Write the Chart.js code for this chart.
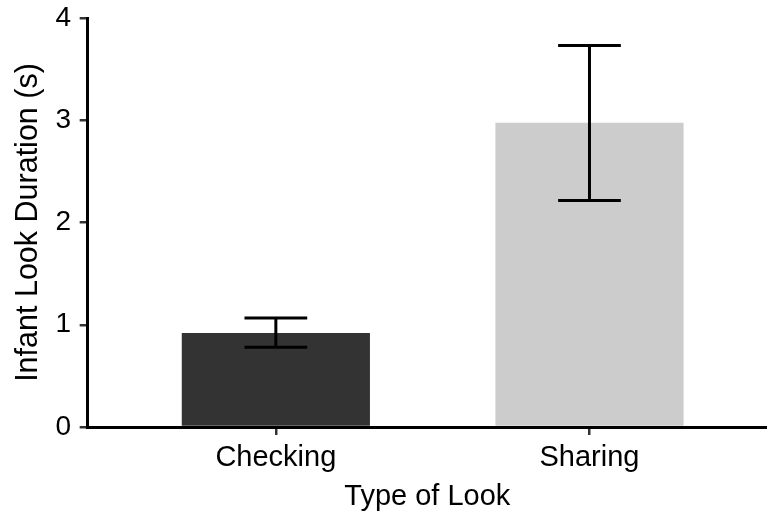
<!DOCTYPE html>
<html>
<head>
<meta charset="utf-8">
<script src="https://cdn.jsdelivr.net/npm/chart.js@4/dist/chart.umd.min.js"></script>
<style>
  html, body { margin: 0; padding: 0; background: #fff; overflow: hidden; }
  #wrap { width: 767px; height: 514px; position: relative; }
</style>
</head>
<body>
<div id="wrap"><canvas id="c"></canvas></div>
<script>
// ---- data ----
const categories = ["Checking", "Sharing"];
const means = [0.92, 2.975];
const errLow = [0.78, 2.215];
const errHigh = [1.065, 3.73];
const barColors = ["#333333", "#cccccc"];
const yTicks = [0, 1, 2, 3, 4];

const FONT = "'Liberation Sans', Arial, sans-serif";

const errorBarPlugin = {
  id: 'errorBars',
  afterDatasetsDraw(chart) {
    const ctx = chart.ctx;
    const xs = chart.scales.x, ys = chart.scales.y;
    const unit = xs.getPixelForValue(2) - xs.getPixelForValue(1);
    const half = unit * 0.1;
    ctx.save();
    ctx.strokeStyle = '#000';
    ctx.lineWidth = 3;
    ctx.lineCap = 'butt';
    categories.forEach((c, i) => {
      const x = xs.getPixelForValue(i + 1);
      const yl = ys.getPixelForValue(errLow[i]);
      const yh = ys.getPixelForValue(errHigh[i]);
      ctx.beginPath();
      ctx.moveTo(x, yl); ctx.lineTo(x, yh);
      ctx.moveTo(x - half, yl); ctx.lineTo(x + half, yl);
      ctx.moveTo(x - half, yh); ctx.lineTo(x + half, yh);
      ctx.stroke();
    });
    ctx.restore();
  }
};

new Chart(document.getElementById('c'), {
  type: 'bar',
  data: {
    datasets: [{
      data: categories.map((c, i) => ({ x: i + 1, y: means[i] })),
      backgroundColor: barColors,
      borderWidth: 0,
      categoryPercentage: 1,
      barPercentage: 0.6
    }]
  },
  options: {
    responsive: true,
    maintainAspectRatio: false,
    animation: false,
    layout: { padding: { left: 7.5, top: 18, right: 0, bottom: 1.3 } },
    plugins: { legend: { display: false }, tooltip: { enabled: false } },
    scales: {
      x: {
        type: 'linear',
        min: 0.4,
        max: 2.566,
        offset: false,
        afterBuildTicks: (axis) => { axis.ticks = categories.map((c, i) => ({ value: i + 1 })); },
        ticks: {
          callback: (v) => categories[v - 1],
          color: '#000',
          font: { family: FONT, size: 29 },
          padding: 5.5,
          maxRotation: 0,
          autoSkip: false
        },
        grid: { display: true, offset: false, drawOnChartArea: false, drawTicks: true, tickLength: 8, color: '#333', lineWidth: 2.5 },
        border: { display: true, color: '#000', width: 3 },
        title: { display: true, text: 'Type of Look', color: '#000', font: { family: FONT, size: 29, lineHeight: 1.1 }, padding: { top: 0, bottom: 0 } }
      },
      y: {
        min: 0,
        max: 4,
        afterBuildTicks: (axis) => { axis.ticks = yTicks.map(v => ({ value: v })); },
        afterFit: (scale) => { scale.paddingTop = 0; scale.paddingBottom = 0; },
        ticks: {
          color: '#000',
          font: { family: FONT, size: 28 },
          padding: 8.5
        },
        grid: { display: true, drawOnChartArea: false, drawTicks: true, tickLength: 8, color: '#333', lineWidth: 2.5 },
        border: { display: true, color: '#000', width: 3 },
        title: { display: true, text: 'Infant Look Duration (s)', color: '#000', font: { family: FONT, size: 30.5 }, padding: { top: 3, bottom: 0 } }
      }
    }
  },
  plugins: [errorBarPlugin]
});
</script>
</body>
</html>
